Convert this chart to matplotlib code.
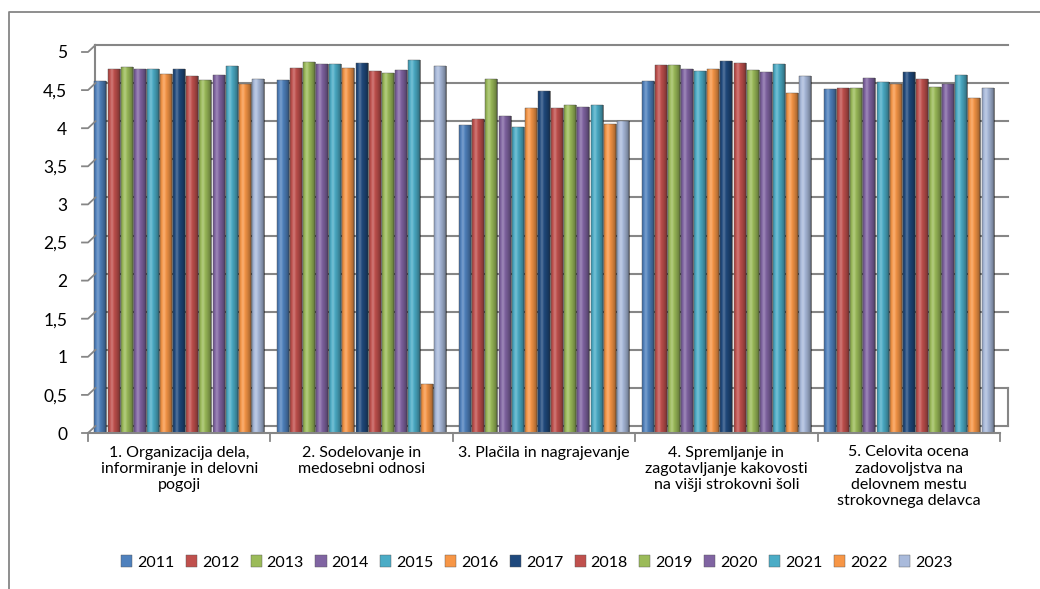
import numpy as np
import matplotlib.pyplot as plt
import matplotlib.transforms as mtransforms
from matplotlib.lines import Line2D

plt.rcParams['font.family'] = ['Lato', 'DejaVu Sans']

categories = [
    "1. Organizacija dela,\ninformiranje in delovni\npogoji",
    "2. Sodelovanje in\nmedosebni odnosi",
    "3. Plačila in nagrajevanje",
    "4. Spremljanje in\nzagotavljanje kakovosti\nna višji strokovni šoli",
    "5. Celovita ocena\nzadovoljstva na\ndelovnem mestu\nstrokovnega delavca",
]
years = ["2011", "2012", "2013", "2014", "2015", "2016", "2017",
         "2018", "2019", "2020", "2021", "2022", "2023"]

# one list per category, in year order
org_dela = [4.62, 4.78, 4.80, 4.78, 4.78, 4.71, 4.78, 4.69, 4.63, 4.70, 4.82, 4.58, 4.65]
sodelovanje = [4.63, 4.79, 4.87, 4.84, 4.84, 4.79, 4.86, 4.75, 4.72, 4.76, 4.89, 0.64, 4.81]
placila = [4.04, 4.12, 4.64, 4.16, 4.02, 4.26, 4.49, 4.27, 4.31, 4.28, 4.31, 4.06, 4.09]
kakovost = [4.62, 4.83, 4.83, 4.78, 4.75, 4.78, 4.88, 4.86, 4.77, 4.74, 4.84, 4.46, 4.69]
celovita = [4.51, 4.53, 4.53, 4.66, 4.61, 4.58, 4.74, 4.64, 4.54, 4.58, 4.70, 4.39, 4.53]

colors = ["#4F81BD", "#C0504D", "#9BBB59", "#8064A2", "#4BACC6", "#F79646", "#1F497D",
          "#C0504D", "#9BBB59", "#8064A2", "#4BACC6", "#F79646", "#A9BADB"]

data = np.array([org_dela, sodelovanje, placila, kakovost, celovita])

fig = plt.figure(figsize=(10.4, 5.89), dpi=100)
ax = fig.add_axes([88 / 1040, 1 - 433 / 589, 912 / 1040, 381 / 589])
ax.set_xlim(-0.5, 4.5)
ax.set_ylim(0, 5)

# back-wall gridlines, shifted up/right a little like the 3D chart
shift = mtransforms.ScaledTranslation(0.075, 0.07, fig.dpi_scale_trans)
grid_tr = ax.transData + shift
for v in np.arange(0, 5.01, 0.5):
    ax.plot([-0.5, 4.5], [v, v], color="#868686", lw=1.5, transform=grid_tr,
            clip_on=False, zorder=0)
ax.plot([-0.5, -0.5], [0, 5], color="#868686", lw=1.5, transform=grid_tr,
        clip_on=False, zorder=0)
ax.plot([4.5, 4.5], [0, 0.5], color="#868686", lw=1.5, transform=grid_tr,
        clip_on=False, zorder=0)

# short diagonal ticks from the front to the wall
for v in np.arange(0, 5.01, 0.5):
    p0 = ax.transData.transform((-0.5, v))
    p1 = grid_tr.transform((-0.5, v))
    fig.add_artist(Line2D([(p0[0] - 6) / 1040, p0[0] / 1040, p1[0] / 1040],
                          [p0[1] / 589, p0[1] / 589, p1[1] / 589],
                          color="#868686", lw=1.3))

# cylinder-like shading: dark edges, light streak left of centre
u = np.linspace(0, 1, 60)
rgba = np.zeros((1, 60, 4))
dark = np.clip(np.abs(u - 0.32) / 0.68, 0, 1) ** 1.6 * 0.45
light = np.exp(-((u - 0.3) / 0.12) ** 2) * 0.22
rgba[0, :, :3] = np.where(light > dark, 1.0, 0.0)[:, None]
rgba[0, :, 3] = np.maximum(light, dark)

n = len(years)
step = 0.072
width = 0.066
x = np.arange(len(categories))
for i in range(n):
    pos = x + (i - (n - 1) / 2) * step
    bars = ax.bar(pos, data[:, i], width=width, color=colors[i],
                  edgecolor="#555555", linewidth=0.3, label=years[i], zorder=2)
    for b in bars:
        im = ax.imshow(rgba, aspect="auto", interpolation="bilinear",
                       extent=[b.get_x(), b.get_x() + b.get_width(), 0, b.get_height()],
                       zorder=3)
        im.set_clip_path(b)
ax.set_xlim(-0.5, 4.5)
ax.set_ylim(0, 5)
ax.set_aspect("auto")

# floor front line
ax.plot([-0.5, 4.5], [0, 0], color="#868686", lw=1.5, clip_on=False, zorder=4)
for s in ax.spines.values():
    s.set_visible(False)

ax.set_yticks(np.arange(0, 5.01, 0.5))
ax.set_yticklabels(["0", "0,5", "1", "1,5", "2", "2,5", "3", "3,5", "4", "4,5", "5"],
                   fontsize=12.5)
ax.tick_params(axis="y", length=0, pad=15)
ax.set_xticks(x)
ax.set_xticklabels(categories, fontsize=11.5, linespacing=1.2)
ax.tick_params(axis="x", length=0, pad=9)
for b in np.arange(-0.5, 4.51, 1):
    ax.plot([b, b], [0, -0.1], color="#868686", lw=1.3, clip_on=False)

ax.legend(loc="center", bbox_to_anchor=(0.516, 0.045), bbox_transform=fig.transFigure,
          ncol=13, frameon=False, fontsize=11.5, handlelength=0.7, handleheight=0.7,
          handletextpad=0.3, columnspacing=0.72)

# outer chart border (cropped at right and bottom)
fig.add_artist(Line2D([9 / 1040, 9 / 1040, 1.0], [0.0, 1 - 12 / 589, 1 - 12 / 589],
                      color="#868686", lw=1.3))

fig.savefig("out.png", dpi=100)
